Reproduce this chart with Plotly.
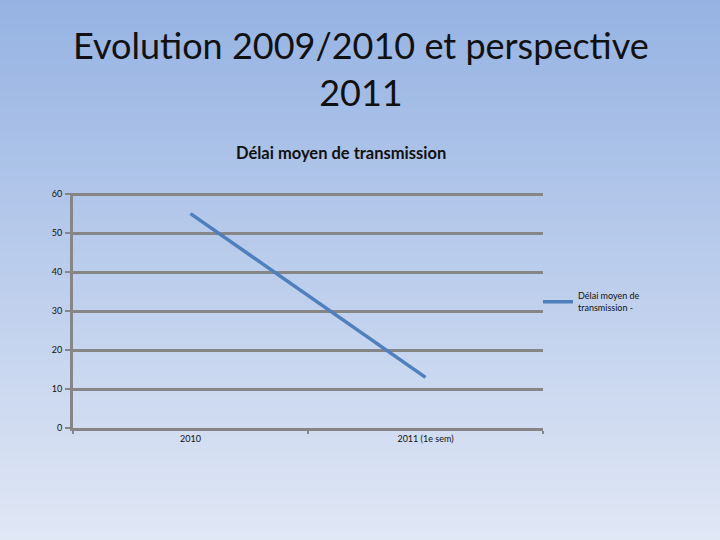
import plotly.graph_objects as go

# Data
categories = ["2010", "2011 (1e sem)"]
values = [55, 13]
series_name = "Délai moyen de<br>transmission -"
y_ticks = [0, 10, 20, 30, 40, 50, 60]

W, H = 720, 540
ML, MR, MT, MB = 73, 177, 193, 112
PW, PH = W - ML - MR, H - MT - MB

fig = go.Figure()
fig.add_trace(go.Scatter(
    x=categories, y=values, mode="lines", name=series_name,
    line=dict(color="#4f7fbd", width=3.5),
    showlegend=True,
))

# Background gradient (top -> bottom)
top = (150, 179, 227)
bot = (224, 231, 245)
shapes = []
N = 90
for i in range(N):
    t = i / (N - 1)
    c = tuple(round(top[k] + (bot[k] - top[k]) * t) for k in range(3))
    py0 = H * i / N
    py1 = H * (i + 1) / N + 1
    y0 = (H - py1 - MB) / PH
    y1 = (H - py0 - MB) / PH
    shapes.append(dict(
        type="rect", xref="paper", yref="paper",
        x0=-ML / PW - 0.01, x1=1 + MR / PW + 0.01, y0=y0, y1=y1,
        fillcolor="rgb(%d,%d,%d)" % c, line=dict(width=0), layer="below",
    ))

def py_to_paper(py):
    return (H - py - MB) / PH

def px_to_paper(px):
    return (px - ML) / PW

annotations = [
    dict(text="Evolution 2009/2010 et perspective<br>2011", xref="paper", yref="paper",
         x=px_to_paper(361), y=py_to_paper(68), xanchor="center", yanchor="middle",
         showarrow=False, font=dict(family="Lato, 'Open Sans', sans-serif", size=36, color="#111111")),
    dict(text="<b>Délai moyen de transmission</b>", xref="paper", yref="paper",
         x=px_to_paper(341), y=py_to_paper(153), xanchor="center", yanchor="middle",
         showarrow=False, font=dict(family="Lato, 'Open Sans', sans-serif", size=16.5, color="#111111")),
]

fig.update_layout(
    width=W, height=H,
    margin=dict(l=ML, r=MR, t=MT, b=MB),
    paper_bgcolor="rgb(185,202,236)",
    plot_bgcolor="rgba(0,0,0,0)",
    shapes=shapes,
    annotations=annotations,
    font=dict(family="Lato, 'Open Sans', sans-serif", size=9, color="#111111"),
    legend=dict(x=px_to_paper(538), y=py_to_paper(302), xanchor="left", yanchor="middle",
                bgcolor="rgba(0,0,0,0)", font=dict(size=9), itemwidth=30, tracegroupgap=0),
    xaxis=dict(
        type="category", range=[-0.5, 1.5], tickson="boundaries",
        showgrid=False, showline=True, linecolor="#868686", linewidth=3,
        ticks="outside", ticklen=3, tickwidth=2, tickcolor="#868686",
        tickfont=dict(size=9), zeroline=False,
    ),
    yaxis=dict(
        range=[0, 60.3], tickvals=y_ticks, showgrid=True, gridcolor="#868686", gridwidth=3,
        showline=True, linecolor="#868686", linewidth=3,
        ticks="outside", ticklen=5, tickwidth=2, tickcolor="#868686",
        tickfont=dict(size=9), zeroline=False, ticklabelstandoff=1,
    ),
)

fig.write_html("out.html", post_script="document.body.style.margin='0';",
               config={"displayModeBar": False})
